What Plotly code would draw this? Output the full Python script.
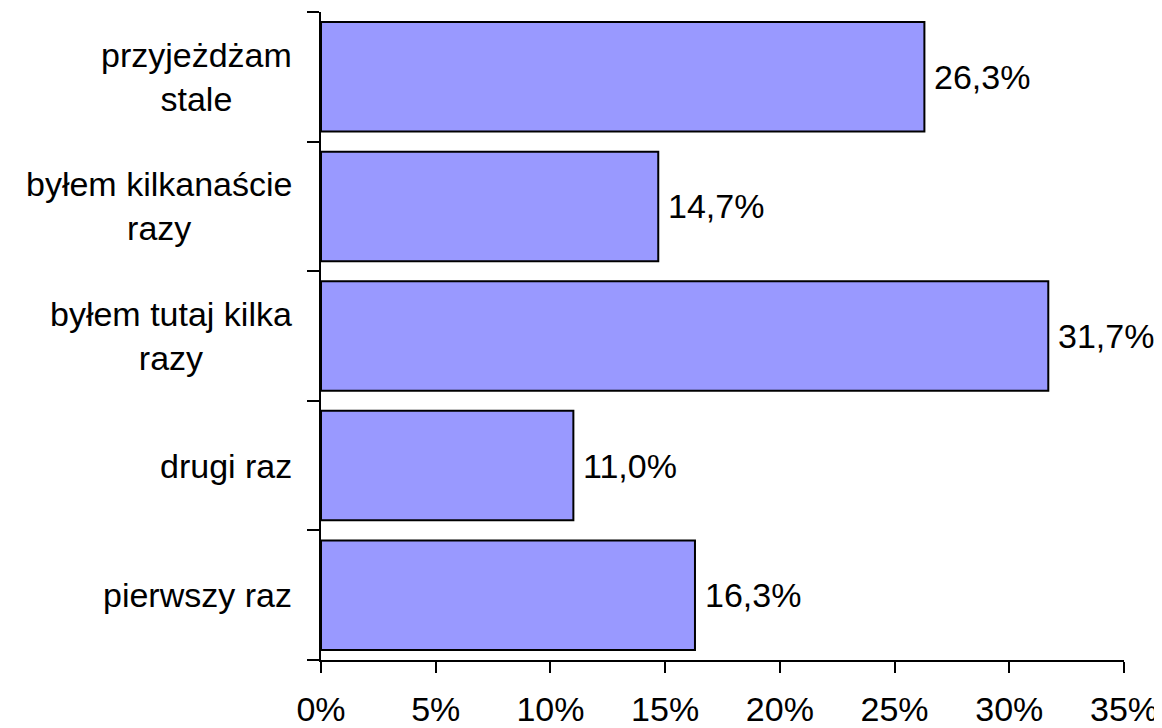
import plotly.graph_objects as go

categories = ["pierwszy raz", "drugi raz", "byłem tutaj kilka razy",
              "byłem kilkanaście razy", "przyjeżdżam stale"]
category_labels = ["pierwszy raz", "drugi raz", "byłem tutaj kilka<br>razy",
                   "byłem kilkanaście<br>razy", "przyjeżdżam<br>stale"]
values = [16.3, 11.0, 31.7, 14.7, 26.3]
x_ticks = [0, 5, 10, 15, 20, 25, 30, 35]

FONT = "Liberation Sans, Arial, sans-serif"
FS = 34

fig = go.Figure()
fig.add_trace(go.Bar(
    y=categories, x=values, orientation="h",
    marker=dict(color="#9999FF", line=dict(color="black", width=2)),
    hoverinfo="skip", cliponaxis=False,
))

annotations = []
for c, lab in zip(categories, category_labels):
    annotations.append(dict(
        x=0, xref="paper", y=c, yref="y", text=lab, showarrow=False,
        xanchor="right", yanchor="middle", align="center", xshift=-27,
        font=dict(family=FONT, size=FS, color="black"),
    ))
for c, v in zip(categories, values):
    annotations.append(dict(
        x=v, xref="x", y=c, yref="y",
        text=f"{v:.1f}".replace(".", ",") + "%", showarrow=False,
        xanchor="left", yanchor="middle", xshift=8,
        font=dict(family=FONT, size=FS, color="black"),
    ))

# page body has an 8px margin, so the figure is 8px smaller than the window
fig.update_layout(
    width=1154, height=720,
    margin=dict(l=313, r=38, t=4, b=68, autoexpand=False),
    paper_bgcolor="white", plot_bgcolor="white",
    showlegend=False, bargap=0.155,
    font=dict(family=FONT, size=FS, color="black"),
    annotations=annotations,
)
fig.update_xaxes(
    range=[0, 35], tickmode="array", tickvals=x_ticks,
    ticktext=[f"{t}%" for t in x_ticks],
    ticks="outside", ticklen=11, tickwidth=2, tickcolor="black",
    showline=True, linecolor="black", linewidth=2,
    showgrid=False, zeroline=False, automargin=False,
    tickfont=dict(family=FONT, size=FS, color="black"),
    ticklabelstandoff=7,
)
fig.update_yaxes(
    type="category", categoryorder="array", categoryarray=categories,
    range=[-0.5, 4.5], tickson="boundaries",
    ticks="outside", ticklen=12, tickwidth=2, tickcolor="black",
    showline=True, linecolor="black", linewidth=2, automargin=False,
    showgrid=False, zeroline=False, showticklabels=False,
)

fig.write_html("out.html")
